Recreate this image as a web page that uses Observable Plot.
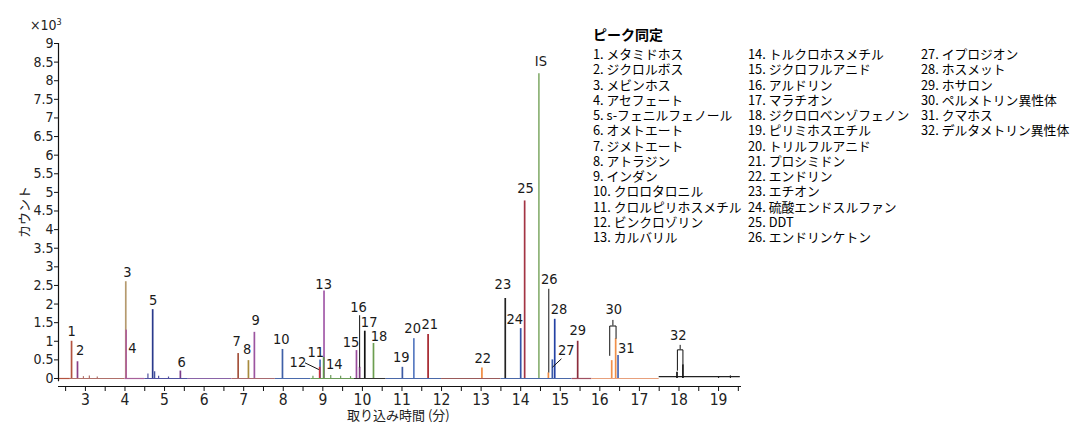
<!DOCTYPE html>
<html>
<head>
<meta charset="utf-8">
<script src="https://cdn.jsdelivr.net/npm/d3@7"></script>
<script src="https://cdn.jsdelivr.net/npm/@observablehq/plot@0.6"></script>
<style>
  body { margin: 0; background: #fff; }
  #wrap { position: relative; width: 1077px; height: 432px; overflow: hidden; }
  .ov { position: absolute; color: #222; white-space: nowrap; }
  .jp { font-family: "Noto Sans CJK JP", sans-serif; }
  .cond { font-family: "Liberation Sans Narrow", "DejaVu Sans Condensed", "Arial Narrow", sans-serif; }
  #legend div { position: absolute; font-size: 12.8px; line-height: 15px; }
</style>
</head>
<body>
<div id="wrap">
  <div id="chart"></div>
  <div id="legend" class="jp"></div>
</div>
<script>
// ---- Data (time in minutes, counts in ×10³) ----
const peakIds     = ["1","2","3","4","5","6","7","8","9","10","11","12","13","14","15","16","17","18","19","20","21","22","23","24","25","IS","26","27","28","29","30a","30b","31","32a","32b"];
const peakTimes   = [2.65,2.80,4.02,4.03,4.70,5.40,6.86,7.12,7.27,7.98,8.93,8.92,9.03,9.02,9.85,9.93,10.06,10.28,11.01,11.30,11.66,13.02,13.61,14.00,14.10,14.46,14.70,14.80,14.86,15.44,16.30,16.40,16.46,17.95,18.10];
const peakHeights = [1.00,0.45,2.60,1.30,1.85,0.20,0.67,0.48,1.24,0.78,0.50,0.30,2.35,0.56,0.75,0.30,1.27,0.94,0.30,1.07,1.18,0.28,2.15,1.34,4.77,8.19,0.15,0.50,1.59,1.00,0.48,1.07,0.62,0.17,0.37];
const peakColors  = ["#b4533f","#8a3f86","#b59a6e","#b0609a","#2a3a8c","#7a3d8c","#a5523c","#a88a3c","#9c55a0","#3f60a8","#4a6cb4","#c8303c","#a35aa8","#5f9a4c","#9a4c9c","#7b3b7d","#111111","#6c9e50","#3c5aa4","#5a7cc2","#a5242c","#f08a40","#222222","#3454a8","#a33444","#8db276","#f08a40","#3a5aa8","#2442a4","#8c2c3c","#f0904a","#f0904a","#4464b4","#111111","#111111"];

// small baseline bumps
const bumpTimes   = [2.95,3.10,3.30,4.58,4.75,4.85,5.10,8.75,9.20,9.45,9.70,19.00,19.30];
const bumpHeights = [0.05,0.07,0.04,0.12,0.18,0.06,0.04,0.06,0.08,0.06,0.05,0.05,0.07];
const bumpColors  = ["#b0706a","#b0706a","#b0706a","#5050a0","#3a4a9c","#5050a0","#5050a0","#6a9a58","#6a9a58","#6a9a58","#6a9a58","#222222","#222222"];

// baseline colour segments
const segStarts = [2.32,2.62,4.00,4.50,5.60,6.70,7.80,8.70,9.80,10.60,12.00,13.50,15.30,15.80,17.50];
const segEnds   = [2.62,4.00,4.50,5.60,6.70,7.80,8.70,9.80,10.60,12.00,13.50,15.30,15.80,17.50,19.55];
const segLevels = [0,0,0,0,0,0,0,0,0,0,0,0,0,0,0.05];
const segColors = ["#b4533f","#b0706a","#a8609a","#5050a0","#8a64a8","#a86a70","#4a6aac","#6a9a58","#333333","#4a68a8","#9a5a5a","#4a68a8","#a05060","#e8a07c","#222222"];

// peak labels
const labelTexts  = ["1","2","3","4","5","6","7","8","9","10","11","12","13","14","15","16","17","18","19","20","21","22","23","24","25","IS","26","27","28","29","30","31","32"];
const labelTimes  = [2.65,2.87,4.06,4.19,4.71,5.43,6.82,7.09,7.30,7.95,8.82,8.37,9.02,9.29,9.71,9.90,10.17,10.42,10.98,11.27,11.70,13.04,13.55,13.85,14.12,14.51,14.72,15.15,14.97,15.44,16.35,16.67,17.98];
const labelValues = [1.26,0.75,2.85,0.80,2.10,0.44,1.00,0.78,1.56,1.05,0.69,0.44,2.53,0.37,0.96,1.92,1.51,1.13,0.56,1.36,1.45,0.53,2.52,1.60,5.10,8.53,2.65,0.75,1.85,1.29,1.86,0.80,1.16];

// label pointer lines
const ptrT1 = [8.55, 9.93, 14.71, 15.03];
const ptrV1 = [0.42, 1.70, 2.41, 0.53];
const ptrT2 = [8.90, 9.93, 14.71, 14.80];
const ptrV2 = [0.24, 0.30, 0.16, 0.30];

// brackets for 30 and 32: left leg, bar, right leg, top tick
const brLeftT  = [16.25, 17.96];
const brRightT = [16.41, 18.10];
const brBarV   = [1.41, 0.77];
const brLegLV  = [0.62, 0.22];
const brLegRV  = [1.08, 0.39];
const brTickV  = [1.56, 0.89];

// axes
const yTicks = d3.range(0, 9.01, 0.5);
const xMajor = d3.range(3, 20, 1);
const xMinor = d3.range(2.5, 19.6, 0.5);
const xDomain = [2.32, 19.58];
const yDomain = [-0.215, 9];

// legend
const legendTitle = "ピーク同定";
const legendNames = ["メタミドホス","ジクロルボス","メビンホス","アセフェート","s-フェニルフェノール","オメトエート","ジメトエート","アトラジン","インダン","クロロタロニル","クロルピリホスメチル","ビンクロゾリン","カルバリル","トルクロホスメチル","ジクロフルアニド","アルドリン","マラチオン","ジクロロベンゾフェノン","ピリミホスエチル","トリルフルアニド","プロシミドン","エンドリン","エチオン","硫酸エンドスルファン","DDT","エンドリンケトン","イプロジオン","ホスメット","ホサロン","ペルメトリン異性体","クマホス","デルタメトリン異性体"];

// ---- Build tables ----
const peaks = peakIds.map((id, i) => ({id, t: peakTimes[i], h: peakHeights[i], c: peakColors[i]}));
const bumps = bumpTimes.map((t, i) => ({t, h: bumpHeights[i], c: bumpColors[i]}));
const segs = segStarts.map((s, i) => ({x1: s, x2: segEnds[i], y: segLevels[i], c: segColors[i]}));
const labels = labelTexts.map((s, i) => ({s, t: labelTimes[i], v: labelValues[i]}));
const ptrs = ptrT1.map((t, i) => ({x1: t, y1: ptrV1[i], x2: ptrT2[i], y2: ptrV2[i]}));
const brPts = [];
brLeftT.forEach((l, i) => {
  brPts.push({k: i, t: l, v: brLegLV[i]}, {k: i, t: l, v: brBarV[i]}, {k: i, t: brRightT[i], v: brBarV[i]}, {k: i, t: brRightT[i], v: brLegRV[i]});
});
const brTicks = brLeftT.map((l, i) => ({t: (l + brRightT[i]) / 2, v1: brBarV[i], v2: brTickV[i]}));

const condFont = '"Liberation Sans Narrow", "DejaVu Sans Condensed", "Arial Narrow", sans-serif';

const chart = Plot.plot({
  width: 1077,
  height: 432,
  marginLeft: 58,
  marginRight: 336,
  marginTop: 43,
  marginBottom: 46,
  style: {fontFamily: condFont, color: "#222", background: "#fff"},
  x: {domain: xDomain, axis: null},
  y: {domain: yDomain, axis: null},
  color: {type: "identity"},
  marks: [
    // baseline segments
    Plot.ruleY(segs, {y: "y", x1: "x1", x2: "x2", stroke: "c", strokeWidth: 1.2}),
    Plot.ruleX(bumps, {x: "t", y1: 0, y2: "h", stroke: "c", strokeWidth: 1.2}),
    // peaks
    Plot.ruleX(peaks, {x: "t", y1: 0, y2: "h", stroke: "c", strokeWidth: 1.7}),
    // pointers and brackets
    Plot.link(ptrs, {x1: "x1", y1: "y1", x2: "x2", y2: "y2", stroke: "#111", strokeWidth: 1}),
    Plot.line(brPts, {x: "t", y: "v", z: "k", stroke: "#111", strokeWidth: 1}),
    Plot.ruleX(brTicks, {x: "t", y1: "v1", y2: "v2", stroke: "#111", strokeWidth: 1}),
    // peak labels
    Plot.text(labels, {x: "t", y: "v", text: "s", fontSize: 14.5, fill: "#1a1a1a", fontFamily: condFont}),
    // y axis
    Plot.ruleX([xDomain[0]], {y1: -0.09, y2: 9, stroke: "#111", strokeWidth: 1.2}),
    Plot.axisY({ticks: yTicks, tickSize: 4, tickPadding: 1, tickFormat: d => String(d), fontSize: 14, label: null, stroke: "#111"}),
    // x axis
    Plot.ruleY([yDomain[0]], {stroke: "#111", strokeWidth: 1.2}),
    Plot.axisX({ticks: xMinor, tickSize: 5, tickFormat: d => (d % 1 === 0 ? String(d) : null), tickPadding: 2, fontSize: 15.5, label: null, stroke: "#111"})
  ]
});
document.getElementById("chart").appendChild(chart);

// overlay texts
const wrap = document.getElementById("wrap");
function addDiv(html, cls, css) {
  const d = document.createElement("div");
  d.className = "ov " + cls;
  d.innerHTML = html;
  Object.assign(d.style, css);
  wrap.appendChild(d);
  return d;
}
addDiv("×10<sup style='font-size:9px;vertical-align:5px'>3</sup>", "cond", {left: "30px", top: "14px", fontSize: "14px", lineHeight: "16px"});
addDiv("カウント", "jp", {left: "0px", top: "205px", width: "56px", textAlign: "center", fontSize: "13px", lineHeight: "14px", transform: "translate(-4px,0) rotate(-90deg)", transformOrigin: "28px 7px"});
addDiv("取り込み時間 (分)", "jp", {left: "347px", top: "408px", fontSize: "13px", lineHeight: "13px"});

// legend
const leg = document.getElementById("legend");
const t = document.createElement("div");
t.textContent = legendTitle;
Object.assign(t.style, {left: "593px", top: "27px", fontWeight: "bold", fontSize: "14px"});
leg.appendChild(t);
const colX = [593, 748, 921];
legendNames.forEach((n, i) => {
  const col = Math.floor(i / 13), row = i % 13;
  const d = document.createElement("div");
  d.textContent = (i + 1) + ". " + n;
  Object.assign(d.style, {left: colX[col] + "px", top: (46 + row * 15.25) + "px"});
  leg.appendChild(d);
});
</script>
</body>
</html>
